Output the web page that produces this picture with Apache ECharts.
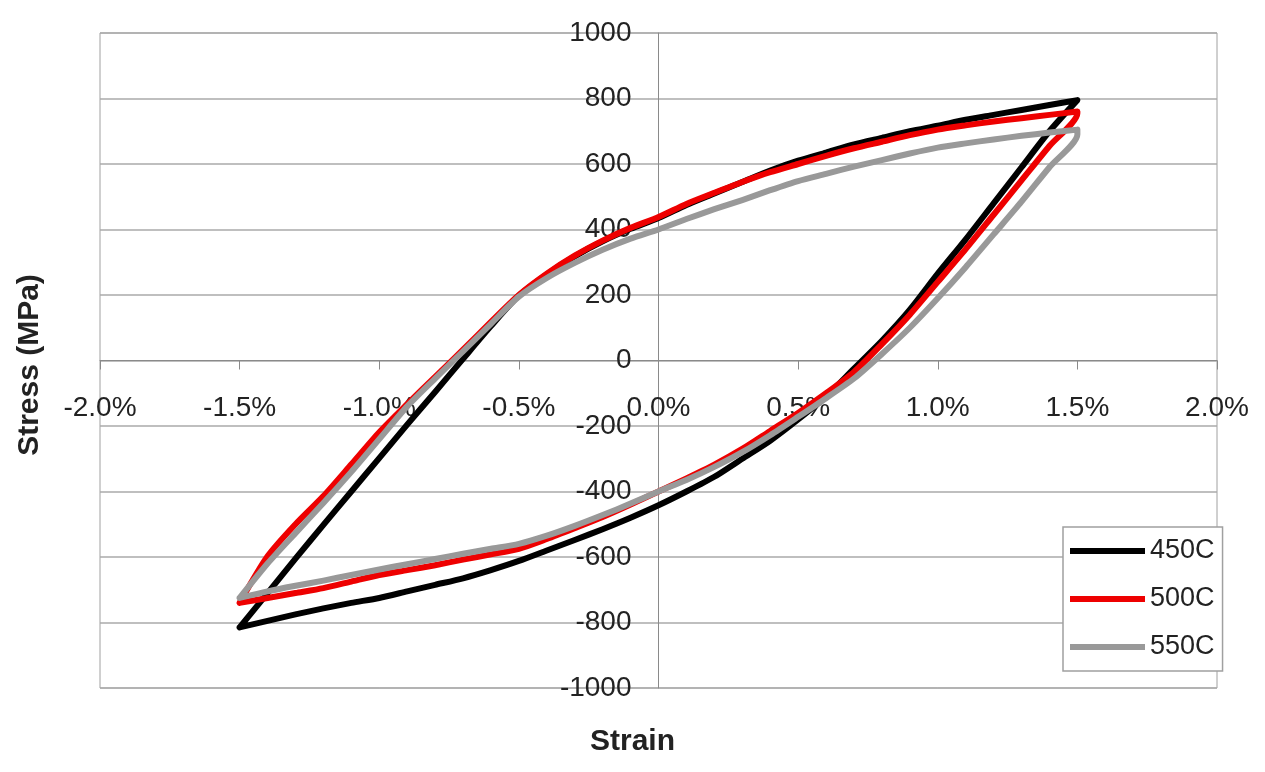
<!DOCTYPE html>
<html>
<head>
<meta charset="utf-8">
<script src="https://cdn.jsdelivr.net/npm/echarts@6/dist/echarts.min.js"></script>
<style>
  html, body { margin: 0; padding: 0; background: #ffffff; }
  #chart { width: 1265px; height: 772px; }
</style>
</head>
<body>
<div id="chart"></div>
<script>
// Strain grid (%) shared by every branch of the hysteresis loops
const strain = [-1.5, -1.4, -1.3, -1.2, -1.1, -1.0, -0.9, -0.8, -0.7, -0.6, -0.5,
  -0.4, -0.3, -0.2, -0.1, 0.0, 0.1, 0.2, 0.3, 0.4, 0.5,
  0.6, 0.7, 0.8, 0.9, 1.0, 1.1, 1.2, 1.3, 1.4, 1.5];

// Stress (MPa) on the loading branch (compression tip -> tension tip)
const up450 = [-815, -710, -605, -502, -400, -298, -196, -96, 5, 105, 198,
  263, 318, 364, 402, 435, 475, 510, 545, 580, 610,
  635, 660, 680, 700, 717, 735, 750, 765, 780, 795];
const up500 = [-740, -598, -500, -414, -317, -219, -133, -50, 33, 118, 200,
  265, 320, 366, 405, 438, 478, 512, 545, 575, 600,
  625, 648, 668, 688, 705, 718, 730, 740, 750, 760];
const up550 = [-725, -620, -527, -435, -340, -240, -140, -55, 28, 112, 195,
  252, 298, 338, 372, 400, 432, 462, 490, 520, 548,
  570, 592, 612, 632, 650, 663, 675, 686, 696, 705];

// Stress (MPa) on the unloading branch, listed at the same strains
const down450 = [-815, -795, -775, -757, -740, -725, -705, -685, -665, -640, -612,
  -580, -548, -515, -480, -442, -400, -355, -300, -245, -180,
  -110, -25, 60, 155, 265, 370, 480, 590, 700, 795];
const down500 = [-740, -725, -710, -695, -675, -655, -640, -625, -608, -592, -575,
  -545, -512, -478, -440, -400, -360, -318, -270, -215, -160,
  -100, -35, 50, 140, 240, 340, 445, 550, 655, 755];
const down550 = [-725, -705, -688, -672, -655, -638, -622, -606, -590, -575, -560,
  -535, -505, -472, -437, -400, -365, -325, -280, -228, -172,
  -115, -55, 20, 100, 190, 285, 385, 485, 590, 690];

const seriesNames = ['450C', '500C', '550C'];
const seriesColors = ['#000000', '#ee0000', '#999999'];
const xTicks = { min: -2, max: 2, step: 0.5 };
const yTicks = { min: -1000, max: 1000, step: 200 };

// Closed loop: loading branch forward, unloading branch backward
function loop(up, down) {
  const pts = strain.map((s, i) => [s, up[i]]);
  for (let i = strain.length - 1; i >= 0; i--) pts.push([strain[i], down[i]]);
  return pts;
}

const loops = [loop(up450, down450), loop(up500, down500), loop(up550, down550)];

// Plot box
const G = { left: 100, right: 48, top: 33, bottom: 84 };
const W = 1265, H = 772;
const plotW = W - G.left - G.right, plotH = H - G.top - G.bottom;
// Axes cross at the origin: shift them from the box edges to the zero lines
const yAxisShift = plotW * (0 - xTicks.min) / (xTicks.max - xTicks.min);
const xAxisShift = plotH * (0 - yTicks.min) / (yTicks.max - yTicks.min);

const font = 'Liberation Sans, Arial, sans-serif';
const chart = echarts.init(document.getElementById('chart'), null, { renderer: 'canvas' });

chart.setOption({
  animation: false,
  backgroundColor: '#ffffff',
  grid: {
    left: G.left, right: G.right, top: G.top, bottom: G.bottom,
    show: true, borderColor: '#a0a0a0', borderWidth: 1,
    containLabel: false
  },
  xAxis: {
    type: 'value',
    min: xTicks.min, max: xTicks.max, interval: xTicks.step,
    offset: -xAxisShift,
    axisLine: { onZero: false, lineStyle: { color: '#8a8a8a', width: 1 } },
    axisTick: { show: true, length: 9, lineStyle: { color: '#8a8a8a' } },
    axisLabel: {
      formatter: v => v.toFixed(1) + '%',
      fontSize: 28, fontFamily: font, color: '#222222', margin: 34,
      showMinLabel: true, showMaxLabel: true
    },
    splitLine: { show: false }
  },
  yAxis: {
    type: 'value',
    min: yTicks.min, max: yTicks.max, interval: yTicks.step,
    offset: -yAxisShift,
    axisLine: { show: true, onZero: false, lineStyle: { color: '#8a8a8a', width: 1 } },
    axisTick: { show: false },
    axisLabel: {
      formatter: v => String(v),
      fontSize: 28, fontFamily: font, color: '#222222', margin: 27,
      showMinLabel: true, showMaxLabel: true
    },
    splitLine: { show: true, lineStyle: { color: '#aaaaaa', width: 1.5 } }
  },
  legend: {
    data: seriesNames,
    orient: 'vertical',
    left: 1063, top: 527,
    padding: [10, 8, 10, 7],
    itemGap: 20,
    itemWidth: 75, itemHeight: 6,
    icon: 'rect',
    backgroundColor: '#ffffff',
    borderColor: '#a0a0a0', borderWidth: 1.5,
    textStyle: { fontSize: 27, fontFamily: font, color: '#222222', lineHeight: 28, padding: [0, 0, 0, 0] },
    z: 10
  },
  graphic: [
    {
      type: 'text', left: 'center', top: 727,
      style: { text: 'Strain', font: 'bold 30px ' + font, fill: '#222222' }
    },
    {
      type: 'text', x: 30, y: 365, rotation: Math.PI / 2,
      style: { text: 'Stress (MPa)', font: 'bold 30px ' + font, fill: '#222222',
        textAlign: 'center', textVerticalAlign: 'middle' }
    }
  ],
  series: seriesNames.map((name, k) => ({
    name: name,
    type: 'line',
    data: loops[k],
    showSymbol: false,
    smooth: 0.25,
    color: seriesColors[k],
    lineStyle: { width: 6, color: seriesColors[k], join: 'round', cap: 'round' },
    z: 3 + k
  }))
});
</script>
</body>
</html>
